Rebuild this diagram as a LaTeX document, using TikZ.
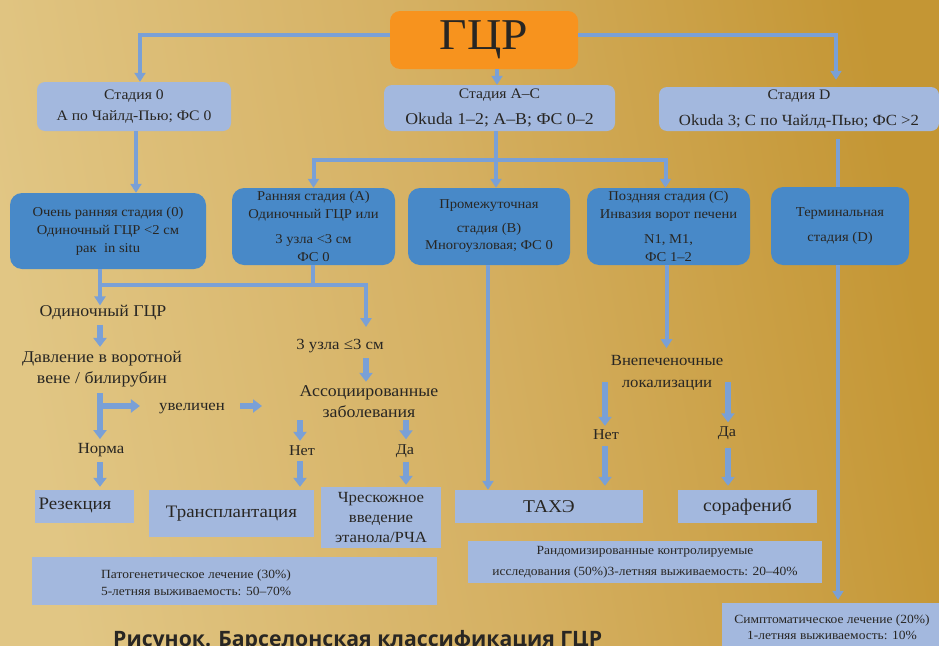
\documentclass[tikz,border=0pt]{standalone}
\usepackage{fontspec}
\setmainfont{Liberation Serif}[FakeStretch=1.08]
\newfontfamily\capfont{Open Sans}
\usetikzlibrary{arrows.meta}
\definecolor{bgl}{RGB}{225,198,132}
\definecolor{bgm}{RGB}{213,176,98}
\definecolor{bgr}{RGB}{196,150,52}
\definecolor{orng}{RGB}{247,147,30}
\definecolor{lblue}{RGB}{163,184,222}
\definecolor{mblue}{RGB}{72,137,200}
\definecolor{arrc}{RGB}{122,160,214}
\definecolor{txtc}{RGB}{40,38,35}
\newcommand\fsz[2]{\fontsize{#1}{#2}\selectfont}
\begin{document}
\begin{tikzpicture}[x=1pt,y=-1pt,
  every node/.style={text=txtc, align=center, inner sep=0pt},
  lbox/.style={fill=lblue, rounded corners=8pt},
  mbox/.style={fill=mblue, rounded corners=12pt},
  sqbox/.style={fill=lblue},
  conn/.style={draw=arrc, line width=4pt},
  arr/.style={conn, -{Triangle[width=11pt,length=9pt]}},
  sarr/.style={draw=arrc, line width=5.5pt, -{Triangle[width=13pt,length=9pt]}},
  lab/.style={font=\fsz{16.5}{21}}
]
\useasboundingbox (0,0) rectangle (939,645);
\shade[left color=bgl, right color=bgr, middle color=bgm, shading angle=100] (0,0) rectangle (939,645);

% top
\node[fill=orng, rounded corners=10pt, minimum width=188pt, minimum height=58pt, font=\fsz{44}{48}] (gcr) at (484,40) {ГЦР};
\node[lbox, minimum width=194pt, minimum height=49pt, font=\fsz{14.5}{16}] (s0) at (134,106.5) {Стадия 0\\[5pt]А по Чайлд-Пью; ФС 0};
\node[lbox, minimum width=231pt, minimum height=46pt] (sac) at (499.5,108) {{\fsz{14.5}{16}Стадия А–С}\\[11pt]{\fsz{16.5}{16}Okuda 1–2; А–В; ФС 0–2}};
\node[lbox, minimum width=280pt, minimum height=44pt] (sd) at (799,109) {{\fsz{14.5}{16}Стадия D}\\[11pt]{\fsz{15.5}{16}Okuda 3; С по Чайлд-Пью; ФС >2}};

% stages
\node[mbox, minimum width=196pt, minimum height=76pt, font=\fsz{13.5}{18}] (e0) at (108,231) {Очень ранняя стадия (0)\\Одиночный ГЦР <2 см\\рак\ \ in situ};
\node[mbox, minimum width=163pt, minimum height=77pt, font=\fsz{13.5}{18}] (ea) at (313.5,226.5) {Ранняя стадия (А)\\Одиночный ГЦР или\\[7pt]3 узла <3 см\\ФС 0};
\node[mbox, minimum width=162pt, minimum height=77pt, font=\fsz{13.5}{17}] (eb) at (489,226.5) {Промежуточная\\[7pt]стадия (В)\\Многоузловая; ФС 0};
\node[mbox, minimum width=163pt, minimum height=77pt, font=\fsz{13.5}{18}] (ec) at (668.5,226.5) {Поздняя стадия (С)\\Инвазия ворот печени\\[7pt]N1, M1,\\ФС 1–2};
\node[mbox, minimum width=138pt, minimum height=78pt, font=\fsz{13.5}{25}] (ed) at (840,226) {Терминальная\\стадия (D)};

% text labels
\node[lab] (t1) at (103,313) {Одиночный ГЦР};
\node[lab] (t2) at (102,369) {Давление в воротной\\вене / билирубин};
\node[lab, font=\fsz{15.5}{18}] (t3) at (192,409) {увеличен};
\node[lab, font=\fsz{15.5}{18}] (t4) at (101,450) {Норма};
\node[lab, font=\fsz{15.5}{18}] (t5) at (340,346) {3 узла ≤3 см};
\node[lab] (t6) at (369,402) {Ассоциированные\\заболевания};
\node[lab, font=\fsz{15}{18}] (t7) at (302,451) {Нет};
\node[lab, font=\fsz{15}{18}] (t8) at (405,451) {Да};
\node[lab, font=\fsz{15.5}{22}] (t9) at (667,373) {Внепеченочные\\локализации};
\node[lab, font=\fsz{15}{18}] (t10) at (606,435) {Нет};
\node[lab, font=\fsz{15}{18}] (t11) at (727,433) {Да};

% treatments
\node[sqbox, minimum width=99pt, minimum height=33pt] (rez) at (84.5,506.5) {};
\node[font=\fsz{17.5}{20}] (reztxt) at (75,505) {Резекция};
\node[sqbox, minimum width=165pt, minimum height=47pt, font=\fsz{17.5}{20}] (tr) at (231.5,513.5) {Трансплантация};
\node[sqbox, minimum width=120pt, minimum height=61pt, font=\fsz{15.5}{20}] (chr) at (381,517.5) {Чрескожное\\введение\\этанола/РЧА};
\node[sqbox, minimum width=188pt, minimum height=33pt, font=\fsz{18}{20}] (tace) at (549,506.5) {ТАХЭ};
\node[sqbox, minimum width=139pt, minimum height=33pt, font=\fsz{18}{20}] (sor) at (747.5,506.5) {сорафениб};
\node[sqbox, minimum width=405pt, minimum height=48pt] (pat) at (234.5,581) {};
\node[font=\fsz{12.5}{17}] (pattxt) at (196,583) {Патогенетическое лечение (30\%)\\5-летняя выживаемость: 50–70\%};
\node[sqbox, minimum width=354pt, minimum height=42pt, font=\fsz{12.5}{21}] (rand) at (645,562) {Рандомизированные контролируемые\\исследования (50\%)3-летняя выживаемость: 20–40\%};
\node[sqbox, minimum width=217pt, minimum height=47pt] (simp) at (830.5,626.5) {};
\node[font=\fsz{12.5}{16}] (simptxt) at (832,627) {Симптоматическое лечение (20\%)\\1-летняя выживаемость: 10\%};

\node[anchor=base west, font=\capfont\bfseries\fsz{21.2}{24}] (cap) at (113,646) {Рисунок. Барселонская классификация ГЦР};

% connectors top
\draw[arr] ([yshift=5pt]gcr.west) -| ([xshift=6pt]s0.north);
\draw[arr] ([yshift=5pt]gcr.east) -| ([xshift=37pt,yshift=7pt]sd.north);
\draw[arr] ([xshift=13pt]gcr.south) -- ([xshift=13pt]gcr.south |- sac.north);
\coordinate (j1) at (496,160);
\draw[conn] (sac.south -| j1) -- (j1);
\draw[arr] (j1) -| (ea.north);
\draw[arr] (j1) -- (j1 |- eb.north);
\draw[arr] (j1) -| ([xshift=-3pt]ec.north);
\draw[arr] ([xshift=2pt]s0.south) -- ([xshift=2pt]s0.south |- e0.north);
\draw[conn] ([yshift=-8pt,xshift=-2pt]sd.south -| ed.north) -- ([xshift=-2pt]ed.north);

% left branch
\coordinate (j2) at (100,285);
\coordinate (a5) at (366,327);
\draw[conn] (e0.south -| j2) -- (j2);
\draw[conn] ([xshift=-1pt]ea.south) -- ([xshift=-1pt]ea.south |- j2);
\draw[arr] ([xshift=-2pt]j2) -| (a5);
\draw[arr] (j2) -- (j2 |- t1.north);
\draw[sarr, shorten <=4pt, shorten >=4pt] (t1.south -| j2) -- (t2.north -| j2);
\coordinate (b2) at (100,406);
\coordinate (b4) at (262,406);
\draw[sarr, shorten <=6pt, shorten >=4pt] (t2.south -| j2) -- (t4.north -| j2);
\draw[sarr, shorten >=19pt] ([xshift=-2.75pt]b2) -- (b2 -| t3.west);
\draw[sarr, shorten <=15pt] (t3.east |- b2) -- (b4);
\draw[sarr, shorten <=5pt, shorten >=3pt] (t4.south -| j2) -- (rez.north -| j2);

% middle-left branch
\coordinate (c7) at (300,420);
\coordinate (c8) at (406,420);
\draw[sarr, shorten <=5pt, shorten >=4pt] (t5.south -| a5) -- (t6.north -| a5);
\draw[sarr, shorten >=5pt] (c7) -- (c7 |- t7.north);
\draw[sarr, shorten >=5pt] (c8) -- (c8 |- t8.north);
\draw[sarr, shorten <=5pt, shorten >=3pt] (t7.south -| c7) -- (tr.north -| c7);
\draw[sarr, shorten <=4pt, shorten >=2pt] (t8.south -| c8) -- (chr.north -| c8);

% B and C branches
\draw[arr] ([xshift=-1pt]eb.south) -- ([xshift=-1pt]eb.south |- tace.north);
\draw[arr, shorten >=7pt] ([xshift=-2pt]ec.south) -- ([xshift=-2pt]ec.south |- t9.north);
\coordinate (c10) at (605,382);
\coordinate (c11) at (728,382);
\draw[sarr, shorten >=4pt] (c10) -- (c10 |- t10.north);
\draw[sarr, shorten >=4pt] (c11) -- (c11 |- t11.north);
\draw[sarr, shorten <=6pt, shorten >=4pt] (t10.south -| c10) -- (tace.north -| c10);
\draw[sarr, shorten <=8pt, shorten >=4pt] (t11.south -| c11) -- (sor.north -| c11);

% D branch
\draw[arr, shorten >=3pt] ([xshift=-2pt]ed.south) -- ([xshift=-2pt]ed.south |- simp.north);
\end{tikzpicture}
\end{document}
